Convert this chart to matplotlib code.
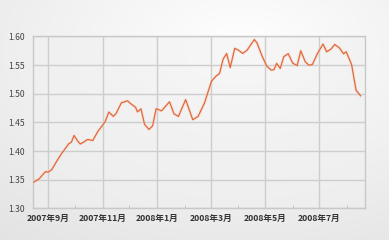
import matplotlib
matplotlib.use("Agg")
import matplotlib.pyplot as plt
import numpy as np
import pandas as pd

dates = ["2007-08-16","2007-08-19","2007-08-21","2007-08-29","2007-09-01","2007-09-05",
         "2007-09-11","2007-09-16","2007-09-21","2007-09-24","2007-09-27","2007-09-30",
         "2007-10-04","2007-10-07","2007-10-11","2007-10-15","2007-10-21","2007-10-27",
         "2007-10-31","2007-11-04","2007-11-08","2007-11-13","2007-11-16","2007-11-22",
         "2007-11-29","2007-12-02","2007-12-08","2007-12-10","2007-12-14","2007-12-18",
         "2007-12-23","2007-12-27","2007-12-31","2008-01-06","2008-01-15","2008-01-20",
         "2008-01-25","2008-02-02","2008-02-05","2008-02-10","2008-02-16","2008-02-23",
         "2008-03-02","2008-03-07","2008-03-11","2008-03-15","2008-03-19","2008-03-23",
         "2008-03-28","2008-04-01","2008-04-06","2008-04-11","2008-04-14","2008-04-19",
         "2008-04-22","2008-04-28","2008-05-03","2008-05-08","2008-05-11","2008-05-14",
         "2008-05-18","2008-05-22","2008-05-27","2008-06-01","2008-06-06","2008-06-10",
         "2008-06-15","2008-06-19","2008-06-23","2008-06-29","2008-07-05","2008-07-09",
         "2008-07-14","2008-07-18","2008-07-23","2008-07-28","2008-07-31","2008-08-06",
         "2008-08-11","2008-08-16"]
values = [1.3456,1.3491,1.3500,1.3640,1.3632,1.3675,
          1.3833,1.3956,1.4061,1.4126,1.4154,1.4272,
          1.4175,1.4123,1.4158,1.4202,1.4184,1.4351,
          1.4430,1.4518,1.4681,1.4605,1.4653,1.4842,
          1.4877,1.4833,1.4763,1.4684,1.4737,1.4465,
          1.4377,1.4439,1.4740,1.4702,1.4860,1.4649,
          1.4605,1.4898,1.4768,1.4547,1.4605,1.4833,
          1.5219,1.5307,1.5354,1.5605,1.5702,1.5456,
          1.5793,1.5763,1.5705,1.5763,1.5833,1.5947,
          1.5886,1.5646,1.5482,1.5412,1.5421,1.5530,
          1.5442,1.5649,1.5700,1.5535,1.5491,1.5751,
          1.5561,1.5500,1.5509,1.5711,1.5868,1.5733,
          1.5781,1.5860,1.5807,1.5698,1.5733,1.5509,
          1.5061,1.4965]

y_ticks = [1.30, 1.35, 1.40, 1.45, 1.50, 1.55, 1.60]
x_tick_dates = ["2007-09-01","2007-11-01","2008-01-01","2008-03-01","2008-05-01","2008-07-01"]
x_tick_labels = ["2007年9月","2007年11月","2008年1月","2008年3月","2008年5月","2008年7月"]
minor_dates = ["2007-10-01","2007-12-01","2008-02-01","2008-04-01","2008-06-01","2008-08-01"]

plt.rcParams['font.family'] = ['Noto Sans CJK JP', 'DejaVu Sans']

fig = plt.figure(figsize=(3.89, 2.40), dpi=100)
fig.patch.set_facecolor('#f6f6f6')

# soft vignette background
bg = fig.add_axes([0, 0, 1, 1], zorder=-10)
yy, xx = np.mgrid[0:240, 0:389]
d = np.sqrt(((xx - 240) / 320.0) ** 2 + ((yy - 50) / 200.0) ** 2)
shade = 1.0 - 0.09 * np.clip(d, 0, 1.3)
bg.imshow(np.dstack([shade] * 3), extent=[0, 1, 0, 1], aspect='auto')
bg.axis('off')

ax = fig.add_axes([33 / 389, 1 - 208.3 / 240, (365 - 33) / 389, (208.3 - 36.5) / 240])
ax.set_facecolor((0.94, 0.94, 0.94, 0.5))

x = pd.to_datetime(dates)
ax.plot(x, values, color='#f5d3c4', lw=2.2, alpha=0.45, solid_joinstyle='round', zorder=3)
ax.plot(x, values, color='#e2683a', lw=0.9, solid_joinstyle='round', zorder=4)

ax.set_xlim(pd.Timestamp("2007-08-15"), pd.Timestamp("2008-08-21"))
ax.set_ylim(1.30, 1.60)
ax.set_yticks(y_ticks)
ax.set_yticklabels([f"{v:.2f}" for v in y_ticks])
ax.set_xticks(pd.to_datetime(x_tick_dates))
ax.set_xticklabels(x_tick_labels)
ax.set_xticks(pd.to_datetime(minor_dates), minor=True)

ax.grid(True, which='major', color='#cdcdcd', lw=1.0)
ax.set_axisbelow(True)
for s in ax.spines.values():
    s.set_color('#c8c8c8')
    s.set_linewidth(1.0)

ax.tick_params(axis='y', which='major', length=0, pad=6, labelsize=6.2, labelcolor='#444444')
ax.tick_params(axis='x', which='major', length=0, pad=4, labelsize=6.2, labelcolor='#333333')
ax.tick_params(axis='x', which='minor', direction='in', length=2, color='#bbbbbb')
for lab in ax.get_xticklabels():
    lab.set_fontweight('bold')

fig.savefig("out.png", dpi=100, facecolor=fig.get_facecolor())
